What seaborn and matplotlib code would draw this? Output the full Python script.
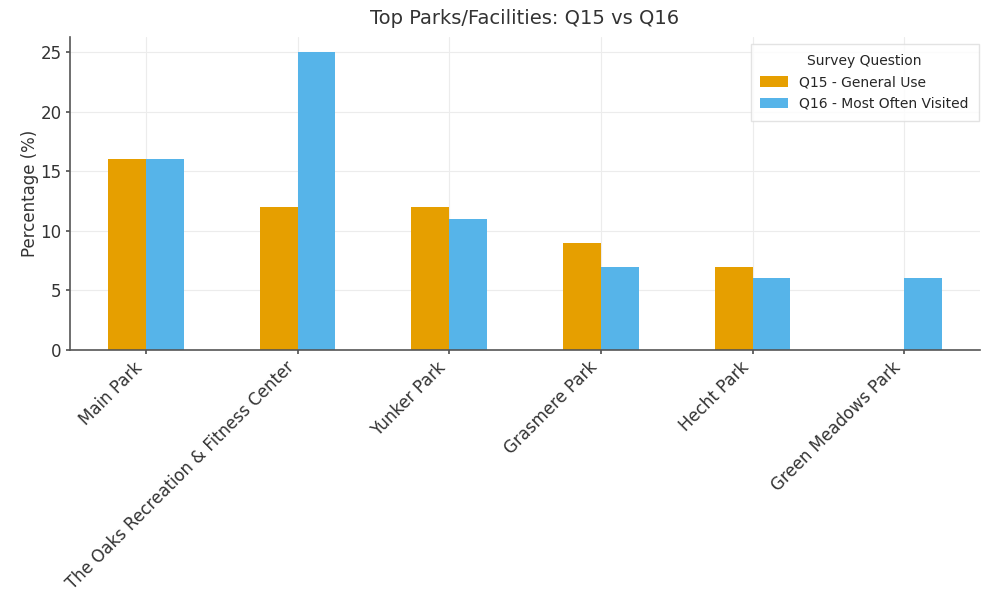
import numpy as np
import pandas as pd
import matplotlib
matplotlib.use("Agg")
import matplotlib.pyplot as plt
import seaborn as sns

categories = ["Main Park", "The Oaks Recreation & Fitness Center", "Yunker Park",
              "Grasmere Park", "Hecht Park", "Green Meadows Park"]
q15_values = [16, 12, 12, 9, 7, np.nan]
q16_values = [16, 25, 11, 7, 6, 6]
series_names = ["Q15 - General Use", "Q16 - Most Often Visited"]
colors = ["#E69F00", "#56B4E9"]

df = pd.DataFrame({
    "Park": categories * 2,
    "Percentage": q15_values + q16_values,
    "Survey Question": [series_names[0]] * len(categories) + [series_names[1]] * len(categories),
})

sns.set_theme(style="whitegrid")
plt.rcParams["font.family"] = ["DejaVu Sans"]

fig = plt.figure(figsize=(9.81, 6.10), dpi=100)
ax = fig.add_axes([70/981, 1 - 350/610, 910/981, (350 - 37)/610])

sns.barplot(data=df, x="Park", y="Percentage", hue="Survey Question",
            order=categories, hue_order=series_names, palette=colors,
            width=0.5, ax=ax, saturation=1, linewidth=0)

ax.set_xlim(-0.5, len(categories) - 0.5)
ax.set_ylim(0, 26.25)
ax.set_yticks([0, 5, 10, 15, 20, 25])
ax.set_xlabel("")
ax.set_ylabel("Percentage (%)", fontsize=12, color="#333333", labelpad=1)
ax.set_title("Top Parks/Facilities: Q15 vs Q16", fontsize=14, color="#333333", pad=9)
plt.setp(ax.get_xticklabels(), rotation=45, ha="right", fontsize=12, color="#333333")
plt.setp(ax.get_yticklabels(), fontsize=12, color="#333333")

ax.grid(True, color="#ececec", linewidth=0.8)
for s in ["top", "right"]:
    ax.spines[s].set_visible(False)
for s in ["left", "bottom"]:
    ax.spines[s].set_visible(True)
    ax.spines[s].set_color("#555555")
    ax.spines[s].set_linewidth(1.2)
ax.tick_params(axis="y", left=True, length=3, color="#555555", pad=3)
ax.tick_params(axis="x", bottom=True, length=3, color="#555555", pad=3)

leg = ax.legend(title="Survey Question", loc="upper right", fontsize=10, title_fontsize=10,
                frameon=True, fancybox=False, bbox_to_anchor=(1.006, 1.0),
                borderpad=0.7, labelspacing=0.55, handleheight=0.8)
leg.get_frame().set_edgecolor("#dddddd")

fig.savefig("out.png", dpi=100)
